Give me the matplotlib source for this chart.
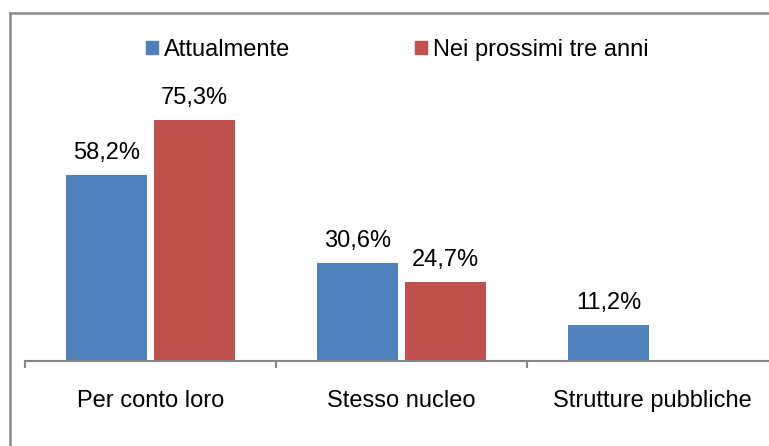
import numpy as np
import matplotlib.pyplot as plt
from matplotlib.lines import Line2D

plt.rcParams['font.family'] = ['Liberation Sans', 'DejaVu Sans']

categories = ['Per conto loro', 'Stesso nucleo', 'Strutture pubbliche']
attualmente = [58.2, 30.6, 11.2]
prossimi = [75.3, 24.7, None]
series_names = ['Attualmente', 'Nei prossimi tre anni']
blue = '#4f81bd'
red = '#c0504d'

W, H = 769, 446
fig = plt.figure(figsize=(W / 100, H / 100), dpi=100)

# axes spans from x=25px to beyond right edge, baseline at y=361px
left = 25 / W
right = 778 / W
bottom = 1 - 361 / H
top = 1 - 41 / H
ax = fig.add_axes([left, bottom, right - left, top - bottom])

x = np.arange(len(categories))
w = 0.325
off = 0.175


def label(xp, v):
    ax.annotate(f'{v:.1f}%'.replace('.', ','), (xp, v), xytext=(0, 11.5),
                textcoords='offset points', ha='center', va='baseline', fontsize=17)


for i, v in enumerate(attualmente):
    ax.bar(x[i] - off, v, w, color=blue)
    label(x[i] - off, v)
for i, v in enumerate(prossimi):
    if v is None:
        continue
    ax.bar(x[i] + off, v, w, color=red)
    label(x[i] + off, v)

ax.set_xlim(-0.5, 2.5)
ax.set_ylim(0, 100)
for s in ['top', 'right', 'left']:
    ax.spines[s].set_visible(False)
ax.spines['bottom'].set_color('#868686')
ax.spines['bottom'].set_linewidth(1.5)
ax.set_yticks([])
ax.set_xticks(x)
ax.set_xticklabels(categories, fontsize=17)
ax.tick_params(axis='x', which='major', length=0, pad=21)
ax.set_xticks([-0.5, 0.5, 1.5], minor=True)
ax.tick_params(axis='x', which='minor', length=5, width=1.5, color='#868686')

handles = [plt.Rectangle((0, 0), 1, 1, color=blue), plt.Rectangle((0, 0), 1, 1, color=red)]
fig.legend(handles, series_names, loc='center', bbox_to_anchor=(0.517, 1 - 50 / H),
           ncol=2, frameon=False, fontsize=17, handlelength=0.5, handleheight=0.5,
           handletextpad=0.25, columnspacing=5.3, borderpad=0)

# outer frame (only top and left visible)
fig.add_artist(Line2D([10 / W, 10 / W], [0, 1 - 13 / H], color='#8c8c8c', lw=1.8, transform=fig.transFigure))
fig.add_artist(Line2D([10 / W, 1], [1 - 13 / H, 1 - 13 / H], color='#8c8c8c', lw=1.8, transform=fig.transFigure))

fig.savefig('out.png', dpi=100)
